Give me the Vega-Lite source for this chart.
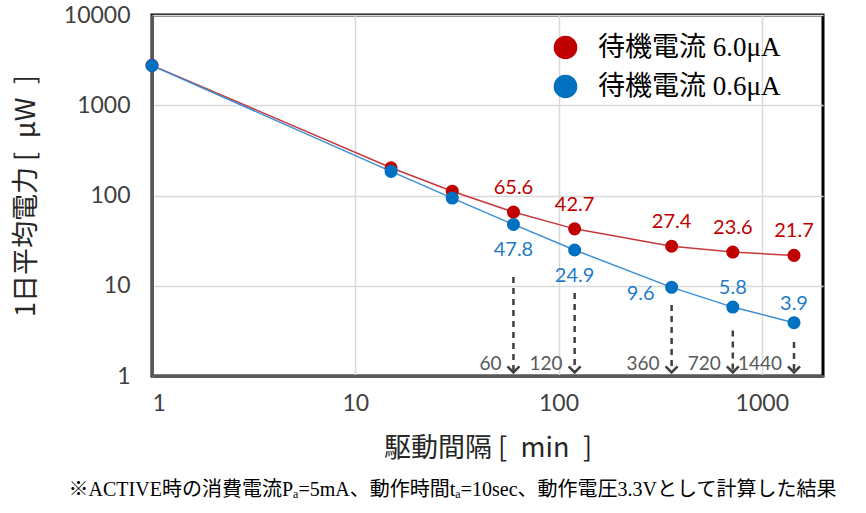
{
  "$schema": "https://vega.github.io/schema/vega-lite/v6.json",
  "width": 671,
  "height": 361,
  "autosize": "none",
  "padding": {"left": 152, "top": 15, "right": 43, "bottom": 137},
  "background": "white",
  "config": {
    "view": {"stroke": "#000000", "strokeWidth": 3},
    "axis": {
      "labelFont": "Lato",
      "labelFontSize": 23,
      "labelColor": "#404040",
      "ticks": false,
      "domainColor": "#595959",
      "domainWidth": 3,
      "grid": true,
      "gridColor": "#D9D9D9",
      "gridWidth": 1.5,
      "titleFont": "Noto Sans CJK JP",
      "titleFontSize": 27,
      "titleFontWeight": "normal",
      "titleColor": "#262626"
    },
    "text": {"font": "Lato", "fontSize": 20}
  },
  "title": {
    "text": "※ACTIVE時の消費電流Pₐ=5mA、動作時間tₐ=10sec、動作電圧3.3Vとして計算した結果",
    "orient": "bottom",
    "anchor": "middle",
    "font": "Liberation Serif, Noto Sans CJK JP",
    "fontSize": 20,
    "fontWeight": "normal",
    "color": "#000000",
    "offset": 19,
    "dx": -35
  },
  "datasets": {
    "series": [
      {"interval": 1, "power": 2770, "series": "待機電流 6.0μA"},
      {"interval": 15, "power": 203, "series": "待機電流 6.0μA"},
      {"interval": 30, "power": 111.5, "series": "待機電流 6.0μA"},
      {"interval": 60, "power": 65.6, "series": "待機電流 6.0μA"},
      {"interval": 120, "power": 42.7, "series": "待機電流 6.0μA"},
      {"interval": 360, "power": 27.4, "series": "待機電流 6.0μA"},
      {"interval": 720, "power": 23.6, "series": "待機電流 6.0μA"},
      {"interval": 1440, "power": 21.7, "series": "待機電流 6.0μA"},
      {"interval": 1, "power": 2752, "series": "待機電流 0.6μA"},
      {"interval": 15, "power": 185, "series": "待機電流 0.6μA"},
      {"interval": 30, "power": 93.6, "series": "待機電流 0.6μA"},
      {"interval": 60, "power": 47.8, "series": "待機電流 0.6μA"},
      {"interval": 120, "power": 24.9, "series": "待機電流 0.6μA"},
      {"interval": 360, "power": 9.6, "series": "待機電流 0.6μA"},
      {"interval": 720, "power": 5.8, "series": "待機電流 0.6μA"},
      {"interval": 1440, "power": 3.9, "series": "待機電流 0.6μA"}
    ],
    "arrows": [
      {"interval": 60, "start": 12.5, "label": "60"},
      {"interval": 120, "start": 8.3, "label": "120"},
      {"interval": 360, "start": 6.1, "label": "360"},
      {"interval": 720, "start": 3.2, "label": "720"},
      {"interval": 1440, "start": 2.38, "label": "1440"}
    ]
  },
  "layer": [
    {
      "data": {"name": "arrows"},
      "mark": {"type": "rule", "strokeWidth": 2.5, "strokeDash": [6, 5], "color": "#404040"},
      "encoding": {
        "x": {"field": "interval", "type": "quantitative", "scale": {"type": "log", "domain": [1, 2000], "nice": false},
          "axis": {"values": [1, 10, 100, 1000], "format": "d", "labelPadding": 16, "title": "駆動間隔 [\u2002min\u2002]", "titlePadding": 20}},
        "y": {"field": "start", "type": "quantitative", "scale": {"type": "log", "domain": [1, 10000], "nice": false},
          "axis": {"values": [1, 10, 100, 1000, 10000], "format": "d", "labelPadding": 22, "title": "1日平均電力 [\u2002μW\u2002]", "titlePadding": 23}},
        "y2": {"datum": 1.12}
      }
    },
    {
      "data": {"name": "arrows"},
      "mark": {"type": "point", "shape": "M-1,-1.6L0,-0.6L1,-1.6", "filled": false, "strokeWidth": 2.5, "color": "#404040", "size": 144, "opacity": 1},
      "encoding": {
        "x": {"field": "interval", "type": "quantitative"},
        "y": {"datum": 1}
      }
    },
    {
      "data": {"name": "arrows"},
      "mark": {"type": "text", "align": "right", "baseline": "alphabetic", "dx": -12, "dy": -6, "fontSize": 19, "color": "#595959"},
      "encoding": {
        "x": {"field": "interval", "type": "quantitative"},
        "y": {"datum": 1},
        "text": {"field": "label"}
      }
    },
    {
      "data": {"name": "series"},
      "mark": {"type": "line", "strokeWidth": 1.5},
      "encoding": {
        "x": {"field": "interval", "type": "quantitative"},
        "y": {"field": "power", "type": "quantitative"},
        "detail": {"field": "series", "type": "nominal"},
        "stroke": {"condition": {"test": "datum.series === '待機電流 6.0μA'", "value": "#C8393B"}, "value": "#3A8FD6"}
      }
    },
    {
      "data": {"name": "series"},
      "mark": {"type": "point", "shape": "circle", "filled": true, "size": 170, "opacity": 1},
      "encoding": {
        "x": {"field": "interval", "type": "quantitative"},
        "y": {"field": "power", "type": "quantitative"},
        "color": {"field": "series", "type": "nominal", "scale": {"domain": ["待機電流 6.0μA", "待機電流 0.6μA"], "range": ["#C00000", "#0070C0"]},
          "legend": {
            "title": null, "orient": "none", "legendX": 400, "legendY": 19,
            "symbolSize": 560, "symbolType": "circle", "symbolStrokeWidth": 0,
            "labelFont": "Liberation Serif, Noto Sans CJK JP", "labelFontSize": 27, "labelOffset": 19,
            "rowPadding": 11, "labelLimit": 400,
            "encode": {"labels": {"update": {"fill": {"signal": "indexof(datum.label, '6.0') >= 0 ? '#C00000' : '#0070C0'"}}}}
          }}
      }
    },
    {
      "data": {"name": "series"},
      "transform": [{"filter": "datum.series === '待機電流 6.0μA' && datum.interval >= 60"}],
      "mark": {"type": "text", "dy": -24, "color": "#C00000"},
      "encoding": {
        "x": {"field": "interval", "type": "quantitative"},
        "y": {"field": "power", "type": "quantitative"},
        "text": {"field": "power", "type": "quantitative", "format": ".1f"}
      }
    },
    {
      "data": {"name": "series"},
      "transform": [{"filter": "datum.series === '待機電流 0.6μA' && (datum.interval === 60 || datum.interval === 120)"}],
      "mark": {"type": "text", "dy": 26, "color": "#1F7BC8"},
      "encoding": {
        "x": {"field": "interval", "type": "quantitative"},
        "y": {"field": "power", "type": "quantitative"},
        "text": {"field": "power", "type": "quantitative", "format": ".1f"}
      }
    },
    {
      "data": {"name": "series"},
      "transform": [{"filter": "datum.series === '待機電流 0.6μA' && datum.interval === 360"}],
      "mark": {"type": "text", "align": "right", "dx": -17, "dy": 7, "color": "#1F7BC8"},
      "encoding": {
        "x": {"field": "interval", "type": "quantitative"},
        "y": {"field": "power", "type": "quantitative"},
        "text": {"field": "power", "type": "quantitative", "format": ".1f"}
      }
    },
    {
      "data": {"name": "series"},
      "transform": [{"filter": "datum.series === '待機電流 0.6μA' && datum.interval >= 720"}],
      "mark": {"type": "text", "dy": -19, "color": "#1F7BC8"},
      "encoding": {
        "x": {"field": "interval", "type": "quantitative"},
        "y": {"field": "power", "type": "quantitative"},
        "text": {"field": "power", "type": "quantitative", "format": ".1f"}
      }
    }
  ]
}
